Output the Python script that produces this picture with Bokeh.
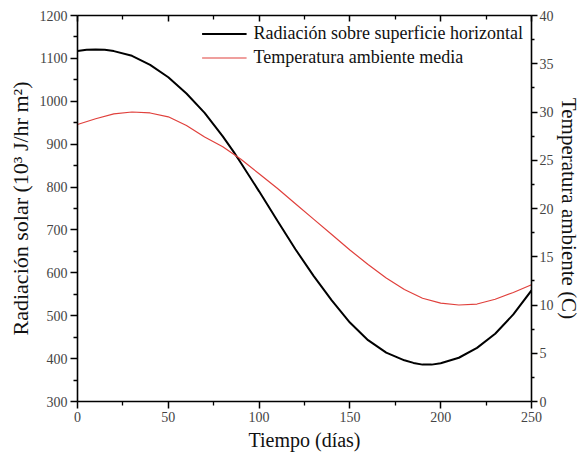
from bokeh.plotting import figure
from bokeh.models import (LinearAxis, Range1d, FixedTicker, Legend, LegendItem,
                          CustomLabelingPolicy)
from bokeh.embed import file_html
from bokeh.resources import INLINE

# ---- data ----
dias_rad = [0, 5, 10, 15, 20, 30, 40, 50, 60, 70, 80, 86, 90, 100, 110, 120, 130,
            140, 150, 160, 170, 180, 185, 190, 195, 200, 210, 220, 230, 240, 250]
radiacion = [1117, 1120, 1121, 1120, 1117, 1106, 1085, 1056, 1018, 973, 918, 882,
             856, 790, 722, 655, 593, 536, 484, 443, 414, 396, 390, 386, 386, 389,
             402, 425, 458, 503, 559]

dias_temp = [0, 10, 20, 30, 40, 50, 60, 70, 80, 90, 100, 110, 120, 130, 140,
             150, 160, 170, 180, 190, 200, 210, 220, 230, 240, 250]
temperatura = [28.7, 29.3, 29.8, 30.0, 29.9, 29.5, 28.6, 27.4, 26.4, 25.1, 23.6,
               22.1, 20.5, 18.9, 17.3, 15.7, 14.2, 12.8, 11.6, 10.7, 10.2, 10.0,
               10.1, 10.6, 11.3, 12.1]

x_ticks = [0, 50, 100, 150, 200, 250]
x_minor = [25, 75, 125, 175, 225]
y_ticks = [300, 400, 500, 600, 700, 800, 900, 1000, 1100, 1200]
y_minor = [350, 450, 550, 650, 750, 850, 950, 1050, 1150]
t_ticks = [0, 5, 10, 15, 20, 25, 30, 35, 40]
t_minor = [2.5, 7.5, 12.5, 17.5, 22.5, 27.5, 32.5, 37.5]

FONT = "Liberation Serif"

p = figure(width=583, height=454, output_backend="svg", toolbar_location=None,
           x_range=Range1d(0, 250), y_range=Range1d(300, 1200),
           min_border_left=77, min_border_right=52, min_border_top=15,
           min_border_bottom=53)
p.extra_y_ranges = {"temp": Range1d(0, 40)}
p.grid.visible = False
p.outline_line_color = None
p.background_fill_color = "white"
p.border_fill_color = "white"

r1 = p.line(dias_rad, radiacion, line_color="black", line_width=2)
r2 = p.line(dias_temp, temperatura, line_color="#e0403c", line_width=1.2,
            y_range_name="temp")

bottom = p.below[0]
left = p.left[0]
right = LinearAxis(y_range_name="temp")
top = LinearAxis()
p.add_layout(right, "right")
p.add_layout(top, "above")

def style(ax, ticks, minor, label, label_size="20px"):
    ax.ticker = FixedTicker(ticks=ticks, minor_ticks=minor)
    ax.axis_line_width = 1.6
    ax.axis_line_color = "black"
    ax.major_tick_line_width = 1.5
    ax.minor_tick_line_width = 1.3
    ax.major_tick_line_color = "black"
    ax.minor_tick_line_color = "black"
    ax.major_tick_out = 7
    ax.major_tick_in = 0
    ax.minor_tick_out = 4
    ax.minor_tick_in = 0
    ax.major_label_text_font = FONT
    ax.major_label_text_font_size = "14px"
    ax.major_label_text_color = "#444444"
    ax.major_label_standoff = 3
    ax.axis_label = label
    ax.axis_label_text_font = FONT
    ax.axis_label_text_font_size = label_size
    ax.axis_label_text_font_style = "normal"
    ax.axis_label_text_color = "#111111"
    ax.axis_label_standoff = 4

style(bottom, x_ticks, x_minor, "Tiempo (días)")
style(left, y_ticks, y_minor, "Radiación solar (10³ J/hr m²)", "22px")
style(right, t_ticks, t_minor, "Temperatura ambiente (C)", "21px")
right.major_tick_out = 6
right.minor_tick_out = 3
right.major_label_standoff = 2
right.axis_label_standoff = 0

style(top, x_ticks, x_minor, None)
top.axis_label = None
top.major_tick_out = 0
top.major_tick_in = 6
top.minor_tick_out = 0
top.minor_tick_in = 4
top.major_label_policy = CustomLabelingPolicy(code="""
try {
  const on = Array.from(indices.ones());
  for (const i of on) { indices.unset(i); }
} catch (e) {
  try {
    const n = indices.size || 0;
    for (let i = 0; i < n; i++) { indices.set(i, false); }
  } catch (e2) {}
}
return indices;
""")
top.major_label_standoff = 0

legend = Legend(items=[
    LegendItem(label="Radiación sobre superficie horizontal", renderers=[r1]),
    LegendItem(label="Temperatura ambiente media", renderers=[r2]),
], location="top_right")
legend.label_text_font = FONT
legend.label_text_font_size = "18px"
legend.label_text_color = "#111111"
legend.border_line_alpha = 0
legend.background_fill_alpha = 0
legend.glyph_width = 45
legend.glyph_height = 21
legend.label_height = 21
legend.label_standoff = 7
legend.spacing = 3
legend.padding = 6
legend.margin = 2
p.add_layout(legend)

open("out.html", "w").write(file_html(p, INLINE))
